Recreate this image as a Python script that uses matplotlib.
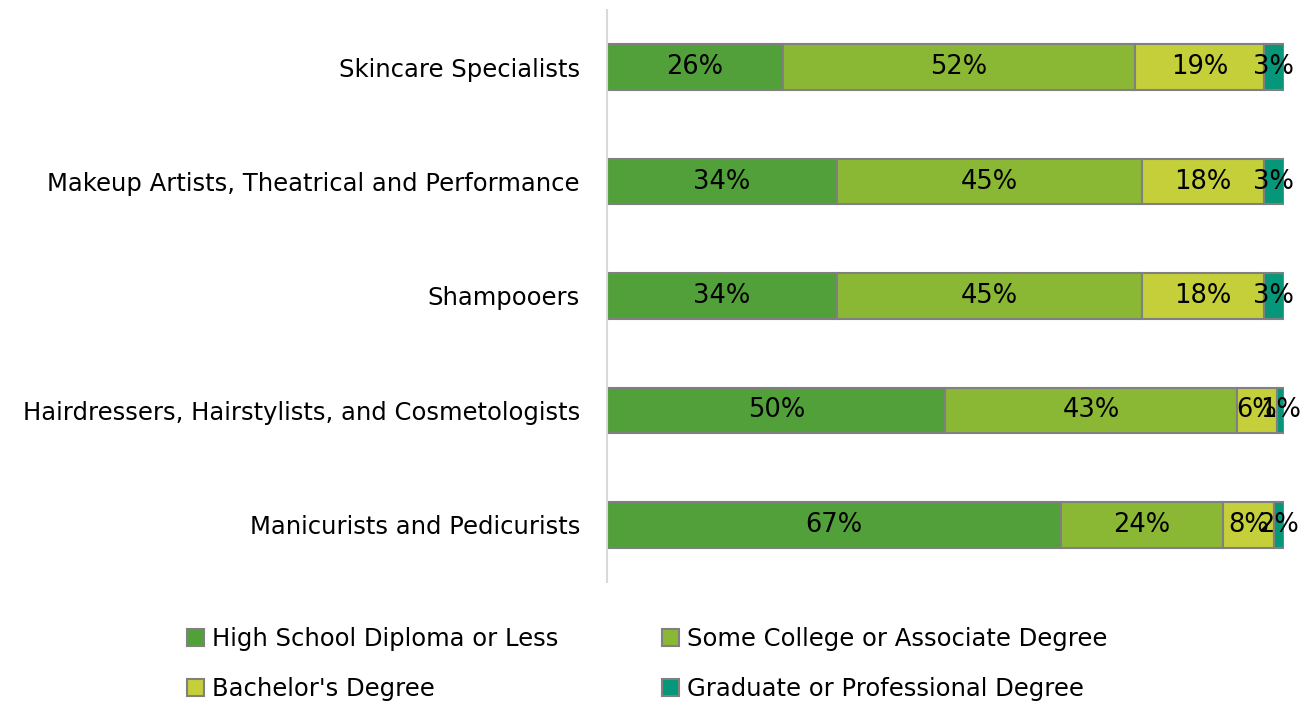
import matplotlib.pyplot as plt
import numpy as np

# data (percent of workers by education)
occupations = ['Skincare Specialists',
               'Makeup Artists, Theatrical and Performance',
               'Shampooers',
               'Hairdressers, Hairstylists, and Cosmetologists',
               'Manicurists and Pedicurists']
levels = ['High School Diploma or Less', 'Some College or Associate Degree',
          "Bachelor's Degree", 'Graduate or Professional Degree']
high_school = [26, 34, 34, 50, 67]
some_college = [52, 45, 45, 43, 24]
bachelor = [19, 18, 18, 6, 7.5]
graduate = [3, 3, 3, 1, 1.5]

colors = ['#52A03A', '#8BB834', '#C4CF3A', '#06977A']

fig = plt.figure(figsize=(13.15, 7.01), dpi=100)
ax = fig.add_axes([0.4616, 0.1698, 0.5148, 0.8159])

y = np.arange(len(occupations))
left = np.zeros(len(occupations))
handles = []
for vals, name, col in zip([high_school, some_college, bachelor, graduate], levels, colors):
    bars = ax.barh(y, vals, left=left, height=0.4, color=col, edgecolor='#808080',
                   linewidth=1.5, label=name)
    ax.bar_label(bars, labels=['%.0f%%' % v for v in vals], label_type='center',
                 fontsize=18.5, color='black')
    left = left + np.array(vals)
    handles.append(bars)

ax.set_xlim(0, 100)
ax.set_ylim(4.5, -0.5)
ax.set_yticks(y)
ax.set_yticklabels(occupations, fontsize=17.5)
ax.tick_params(axis='y', length=0, pad=19.5)
ax.set_xticks([])
for s in ['top', 'right', 'bottom']:
    ax.spines[s].set_visible(False)
ax.spines['left'].set_color('#D9D9D9')
ax.spines['left'].set_linewidth(1.5)

# legend fills column-wise, so reorder to read row-wise like the original
order = [0, 2, 1, 3]
fig.legend(handles=[handles[i] for i in order], labels=[levels[i] for i in order],
           loc='upper left', bbox_to_anchor=(0.135, 0.119), ncol=2,
           frameon=False, fontsize=17.5, handlelength=0.7, handleheight=0.7,
           handletextpad=0.3, columnspacing=4.3, labelspacing=1.05,
           borderaxespad=0)

fig.savefig('out.png', dpi=100)
